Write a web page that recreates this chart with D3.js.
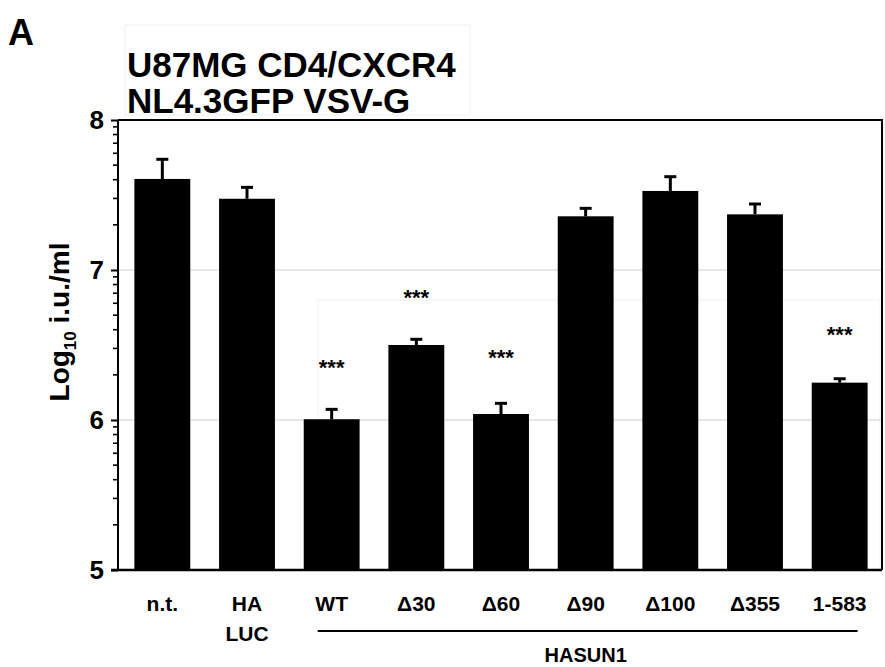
<!DOCTYPE html>
<html><head><meta charset="utf-8">
<script src="https://cdn.jsdelivr.net/npm/d3@7"></script>
<style>body{margin:0;background:#fff}svg{display:block}text{font-family:"Liberation Sans",Arial,sans-serif;font-weight:bold}</style>
</head><body><svg id="c" width="885" height="667"></svg>
<script>
const categories = ["n.t.", "HA\nLUC", "WT", "Δ30", "Δ60", "Δ90", "Δ100", "Δ355", "1-583"];
const values = [7.607, 7.475, 6.005, 6.50, 6.04, 7.358, 7.527, 7.371, 6.249];
const errors = [0.131, 0.076, 0.066, 0.038, 0.071, 0.053, 0.095, 0.069, 0.026];
const significance = ["", "", "***", "***", "***", "", "", "", "***"];
const yTicks = [5, 6, 7, 8];
const gridValues = [6, 7];
const groupLabel = "HASUN1";
const groupMembers = ["WT", "1-583"];

const svg = d3.select("#c");
const m = {l: 118, r: 882, t: 120, b: 570};
const x = d3.scaleBand().domain(categories).range([m.l + 2, m.r]).paddingInner(0.34).paddingOuter(0.17);
const y = d3.scaleLinear().domain([5, 8]).range([m.b, m.t]);

// faint artifact boxes
svg.append("rect").attr("x",125).attr("y",25).attr("width",345).attr("height",90).attr("fill","none").attr("stroke","#f0f0f0");
svg.append("rect").attr("x",318).attr("y",300).attr("width",562).attr("height",270).attr("fill","none").attr("stroke","#f0f0f0");

// gridlines
svg.selectAll("line.grid").data(gridValues).join("line").attr("class","grid")
  .attr("x1", m.l).attr("x2", m.r).attr("y1", d => y(d)).attr("y2", d => y(d))
  .attr("stroke", "#cfcfcf").attr("stroke-width", 1.2);

// frame top/right
svg.append("path").attr("d", `M${m.l},${m.t}H${m.r}V${m.b}`).attr("fill","none").attr("stroke","#000").attr("stroke-width",2);

// bars
svg.selectAll("rect.bar").data(values).join("rect").attr("class","bar")
  .attr("x", (d,i) => x(categories[i])).attr("width", x.bandwidth())
  .attr("y", d => y(d)).attr("height", d => y(5) - y(d)).attr("fill", "#000");

// error bars
const cx = i => x(categories[i]) + x.bandwidth()/2;
svg.selectAll("line.err").data(values).join("line").attr("class","err")
  .attr("x1",(d,i)=>cx(i)).attr("x2",(d,i)=>cx(i)).attr("y1",d=>y(d)).attr("y2",(d,i)=>y(d+errors[i]))
  .attr("stroke","#000").attr("stroke-width",3);
svg.selectAll("line.cap").data(values).join("line").attr("class","cap")
  .attr("x1",(d,i)=>cx(i)-6).attr("x2",(d,i)=>cx(i)+6).attr("y1",(d,i)=>y(d+errors[i])).attr("y2",(d,i)=>y(d+errors[i]))
  .attr("stroke","#000").attr("stroke-width",3);

// significance stars
const starGap = [0,0,51,51,55,0,0,0,53];
svg.selectAll("text.sig").data(significance).join("text").attr("class","sig")
  .attr("x",(d,i)=>cx(i)).attr("y",(d,i)=>y(values[i]+errors[i]) - starGap[i])
  .attr("text-anchor","middle").attr("font-size",22).attr("dy","0.75em").text(d=>d);

// y axis
const yAxis = d3.axisLeft(y).tickValues(yTicks).tickFormat(d3.format("d")).tickSize(7).tickPadding(7);
const ga = svg.append("g").attr("transform",`translate(${m.l},0)`).call(yAxis);
ga.select(".domain").attr("stroke","#000").attr("stroke-width",2).attr("d",`M0,${m.t}V${m.b}`);
ga.selectAll(".tick line").attr("stroke","#000").attr("stroke-width",2);
ga.selectAll(".tick text").attr("font-size",26).attr("fill","#000").attr("font-weight","bold");
// minor log ticks
const minor = [];
[5,6,7].forEach(d => { for (let k=2;k<=9;k++) minor.push(d + Math.log10(k)); });
svg.selectAll("line.minor").data(minor).join("line").attr("class","minor")
  .attr("x1",m.l-5).attr("x2",m.l).attr("y1",d=>y(d)).attr("y2",d=>y(d)).attr("stroke","#000").attr("stroke-width",1.6);

// x axis line
svg.append("line").attr("x1",m.l-7).attr("x2",m.r).attr("y1",m.b).attr("y2",m.b).attr("stroke","#000").attr("stroke-width",2.5);

// x labels
categories.forEach((c,i) => {
  const t = svg.append("text").attr("x",cx(i)).attr("y",611).attr("text-anchor","middle").attr("font-size",21);
  c.split("\n").forEach((s,j) => t.append("tspan").attr("x",cx(i)).attr("dy", j? 30:0).text(s));
});

// group line
const g0 = categories.indexOf(groupMembers[0]), g1 = categories.indexOf(groupMembers[1]);
svg.append("line").attr("x1",x(categories[g0])+14).attr("x2",x(categories[g1])+x.bandwidth()-10)
  .attr("y1",631).attr("y2",631).attr("stroke","#000").attr("stroke-width",2);
svg.append("text").attr("x",(cx(g0)+cx(g1))/2).attr("y",662).attr("text-anchor","middle").attr("font-size",20).text(groupLabel);

// y title
svg.append("text").attr("transform","translate(69,322) rotate(-90)").attr("text-anchor","middle").attr("font-size",28)
  .call(t => { t.append("tspan").text("Log"); t.append("tspan").attr("font-size",17).attr("dy",7).text("10"); t.append("tspan").attr("dy",-7).text(" i.u./ml"); });

// titles
svg.append("text").attr("x",8).attr("y",45).attr("font-size",36).text("A");
svg.append("text").attr("x",127).attr("y",77).attr("font-size",35).text("U87MG CD4/CXCR4");
svg.append("text").attr("x",127).attr("y",113).attr("font-size",35).text("NL4.3GFP VSV-G");
</script></body></html>
